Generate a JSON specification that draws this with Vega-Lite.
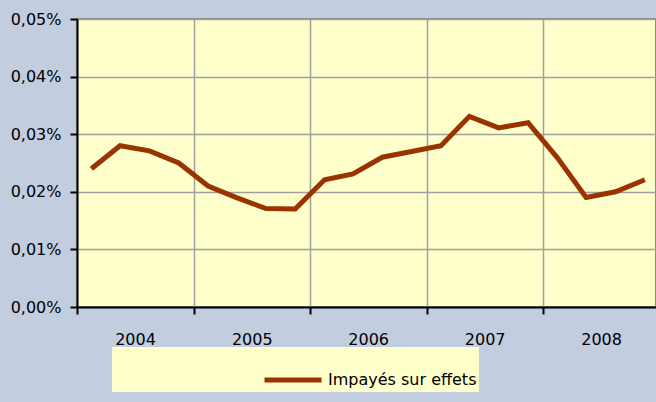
{
  "$schema": "https://vega.github.io/schema/vega-lite/v6.json",
  "width": 579,
  "height": 288,
  "autosize": {"type": "none"},
  "padding": {"left": 77, "top": 19, "right": 0, "bottom": 95},
  "data": {
    "values": [
      {"date": "2004-02-15", "taux": 0.000240},
      {"date": "2004-05-15", "taux": 0.000280},
      {"date": "2004-08-15", "taux": 0.000271},
      {"date": "2004-11-15", "taux": 0.000250},
      {"date": "2005-02-15", "taux": 0.000210},
      {"date": "2005-05-15", "taux": 0.000190},
      {"date": "2005-08-15", "taux": 0.000171},
      {"date": "2005-11-15", "taux": 0.000170},
      {"date": "2006-02-15", "taux": 0.000221},
      {"date": "2006-05-15", "taux": 0.000231},
      {"date": "2006-08-15", "taux": 0.000260},
      {"date": "2006-11-15", "taux": 0.000270},
      {"date": "2007-02-15", "taux": 0.000280},
      {"date": "2007-05-15", "taux": 0.000331},
      {"date": "2007-08-15", "taux": 0.000311},
      {"date": "2007-11-15", "taux": 0.000320},
      {"date": "2008-02-15", "taux": 0.000259},
      {"date": "2008-05-15", "taux": 0.000190},
      {"date": "2008-08-15", "taux": 0.000200},
      {"date": "2008-11-15", "taux": 0.000221}
    ]
  },
  "mark": {"type": "line", "strokeWidth": 5, "strokeJoin": "miter", "clip": true},
  "encoding": {
    "x": {
      "field": "date",
      "type": "temporal",
      "title": null,
      "scale": {"domain": [{"year": 2004, "month": 1, "date": 1}, {"year": 2008, "month": 12, "date": 20}]},
      "axis": {
        "values": [
          {"year": 2004, "month": 1, "date": 1},
          {"year": 2005, "month": 1, "date": 1},
          {"year": 2006, "month": 1, "date": 1},
          {"year": 2007, "month": 1, "date": 1},
          {"year": 2008, "month": 1, "date": 1}
        ],
        "format": "%Y",
        "labelOffset": 58,
        "labelAlign": "center",
        "labelPadding": 17,
        "labelFlush": false,
        "labelOverlap": false
      }
    },
    "y": {
      "field": "taux",
      "type": "quantitative",
      "title": null,
      "scale": {"domain": [0, 0.0005], "nice": false},
      "axis": {
        "values": [0, 0.0001, 0.0002, 0.0003, 0.0004, 0.0005],
        "labelExpr": "replace(format(datum.value, '.2%'), '.', ',')",
        "labelPadding": 9
      }
    },
    "color": {
      "datum": "Impayés sur effets",
      "type": "nominal",
      "scale": {"range": ["#993300"]},
      "legend": {
        "title": null,
        "orient": "none",
        "legendX": 35,
        "legendY": 328,
        "fillColor": "#FFFFCC",
        "padding": 2,
        "symbolType": "stroke",
        "symbolSize": 3249,
        "symbolStrokeWidth": 5,
        "symbolOffset": 148,
        "labelOffset": 4,
        "labelFontSize": 16,
        "labelColor": "#000000",
        "labelFont": "DejaVu Sans"
      }
    }
  },
  "config": {
    "background": "#C3CDE0",
    "font": "DejaVu Sans",
    "view": {"fill": "#FFFFCC", "stroke": "#8A8A8A", "strokeWidth": 2},
    "axis": {
      "domainColor": "#000000",
      "domainWidth": 2,
      "tickColor": "#000000",
      "tickWidth": 2,
      "tickSize": 7,
      "gridColor": "#A0A0A0",
      "gridWidth": 1.5,
      "labelFont": "DejaVu Sans",
      "labelFontSize": 16,
      "labelColor": "#000000"
    }
  }
}
